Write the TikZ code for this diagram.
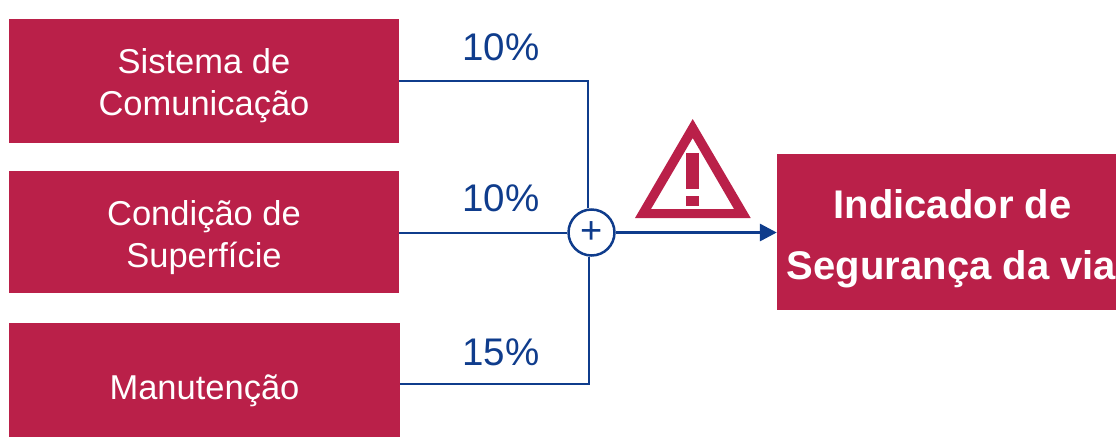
\documentclass[tikz,border=0pt]{standalone}
\usepackage{fontspec}
\setmainfont{Liberation Sans}
\usetikzlibrary{arrows.meta}
\definecolor{crim}{HTML}{BA2049}
\definecolor{navy}{HTML}{0F3C8C}
\tikzset{
  px/.style={x=1pt,y=-1pt},
  box/.style={fill=crim,text=white,inner sep=0pt,align=center,font=\fontsize{34.5}{42}\selectfont},
  link/.style={draw=navy,line width=2pt},
  pct/.style={text=navy,inner sep=0pt,font=\fontsize{38.5}{38.5}\selectfont}
}
\begin{document}
\begin{tikzpicture}[px]
\useasboundingbox (0,0) rectangle (1116,437);
\node[box,minimum width=390pt,minimum height=124pt] (a) at (204,80.5) {\rule{0pt}{36pt}Sistema de\\Comunicação};
\node[box,minimum width=390pt,minimum height=122pt] (b) at (204,232) {\rule{0pt}{36pt}Condição de\\Superfície};
\node[box,minimum width=391pt,minimum height=114pt] (c) at (204.5,380) {\rule{0pt}{47pt}Manutenção};
\node[fill=crim,text=white,inner sep=0pt,minimum width=340pt,minimum height=156pt,align=center,font=\fontsize{40}{61}\selectfont\bfseries] (d) at (947,232) {\rule{0pt}{43pt}\makebox[0pt]{\kern11pt Indicador de}\\\makebox[0pt]{\kern9pt Segurança da via}};
\node[circle,draw=navy,fill=white,line width=2.5pt,minimum size=46pt,inner sep=0pt,text=navy,font=\fontsize{38}{38}\selectfont] (p) at (591.5,232.5) {+};
\coordinate (t1) at (588,81);
\coordinate (t3) at (589,384);
\draw[link] (a.east|-t1) -- (t1) -- (t1|-p.north);
\draw[link] (p.west-|b.east) -- (p.west);
\draw[link] (c.east|-t3) -- (t3) -- (t3|-p.south);
\draw[draw=navy,line width=3.2pt,-{Triangle[length=17pt,width=17pt]}] (p.east) -- (p.east-|d.west);
\node[pct] (n1) at (501,47) {10\%};
\node[pct] (n2) at (501,198) {10\%};
\node[pct] (n3) at (501,352) {15\%};
\fill[crim,even odd rule] (692.7,119)--(635,218)--(750.7,218)--cycle (692.7,138)--(651,209)--(734,209)--cycle;
\fill[crim] (685.7,153) rectangle (699.3,189);
\fill[crim] (685.7,196) rectangle (699.3,206);
\end{tikzpicture}
\end{document}
